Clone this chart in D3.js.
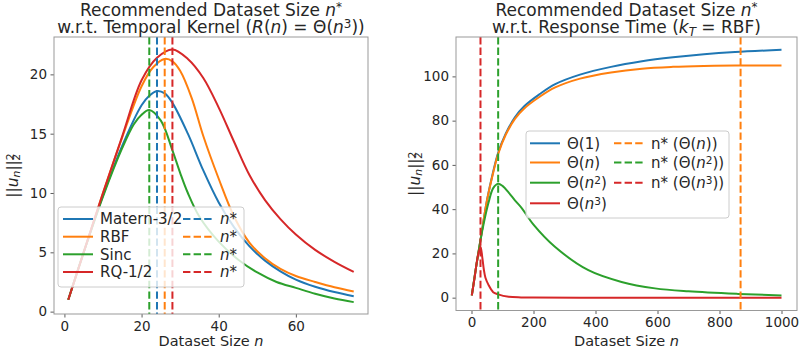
<!DOCTYPE html>
<html>
<head>
<meta charset="utf-8">
<script src="https://cdn.jsdelivr.net/npm/d3@7"></script>
<style>
  body { margin: 0; background: #fff; }
  text { font-family: "DejaVu Sans", sans-serif; fill: #262626; }
</style>
</head>
<body>
<svg width="799" height="356"></svg>
<script>
// ---- left panel data (temporal kernel) ----
var leftN = {
  matern: [1, 5, 10, 15, 20, 22, 24, 26, 28, 32, 36, 40, 44, 48, 52, 56, 60, 65, 70, 75],
  rbf:    [1, 5, 10, 15, 20, 23, 26, 28, 30, 33, 36, 40, 44, 48, 52, 56, 60, 65, 70, 75],
  sinc:   [1, 5, 10, 15, 18, 20, 22, 25, 28, 30, 32, 35, 40, 45, 50, 55, 60, 65, 70, 75],
  rq:     [1, 5, 10, 15, 20, 24, 28, 32, 36, 40, 44, 48, 52, 56, 60, 65, 70, 75]
};
var leftV = {
  matern: [1, 5, 9.8, 14.0, 17.4, 18.2, 18.6, 18.4, 17.6, 15.0, 11.9, 9.2, 7.1, 5.5, 4.3, 3.4, 2.7, 2.1, 1.65, 1.3],
  rbf:    [1, 5, 10, 14.7, 19.0, 20.6, 21.3, 21.1, 20.3, 18.0, 14.8, 11.2, 8.0, 5.8, 4.5, 3.6, 3.0, 2.5, 2.05, 1.7],
  sinc:   [1, 5, 9.7, 13.8, 15.8, 16.6, 17.0, 16.1, 13.6, 11.7, 10.0, 8.0, 5.9, 4.4, 3.3, 2.5, 2.0, 1.5, 1.1, 0.8],
  rq:     [1, 5, 10, 14.8, 19.5, 21.4, 22.1, 21.3, 19.7, 17.2, 14.3, 11.5, 9.4, 7.8, 6.5, 5.2, 4.2, 3.35]
};
var leftStar = [24, 26, 22, 28];
var leftLabels = ["Matern-3/2", "RBF", "Sinc", "RQ-1/2"];
var leftKeys = ["matern", "rbf", "sinc", "rq"];

// ---- right panel data (response time) ----
var rightN = {
  c1: [1, 15, 29, 50, 70, 86, 110, 140, 170, 220, 270, 350, 450, 550, 650, 750, 850, 1000],
  cn: [1, 15, 29, 50, 70, 86, 110, 140, 170, 220, 270, 350, 450, 550, 650, 750, 850, 1000],
  cn2: [1, 15, 29, 40, 55, 70, 86, 100, 120, 140, 162, 200, 269, 377, 484, 592, 700, 860, 1000],
  cn3: [1, 10, 20, 29, 35, 40, 45, 54, 70, 86, 120, 160, 200, 400, 700, 1000]
};
var rightV = {
  c1: [1, 14, 26, 44, 57, 65.5, 74, 81.5, 86.5, 92, 96.5, 100.8, 104.3, 106.8, 108.6, 110, 111, 112],
  cn: [1, 14, 26, 44, 56.5, 65, 73.5, 80.8, 85.5, 90.8, 95, 99, 101.8, 103.5, 104.3, 104.7, 104.9, 104.9],
  cn2: [1, 14, 26, 34, 43, 49.5, 51.5, 50.5, 47.5, 44, 40.5, 33, 23, 12.4, 7.1, 4.2, 2.85, 1.7, 1.0],
  cn3: [1, 9, 18.5, 23, 18, 12.5, 9, 6, 2.5, 1.5, 0.4, 0.1, 0.02, 0, 0, 0]
};
var rightKeys = ["c1", "cn", "cn2", "cn3"];
var rightStar = [{k: 1, n: 868}, {k: 2, n: 86}, {k: 3, n: 29}];

var colors = ["#1f77b4", "#ff7f0e", "#2ca02c", "#d62728"];

var svg = d3.select("svg");

// write matplotlib-like mathtext into a text node
function rich(sel, parts, size) {
  parts.forEach(function(p) {
    var t = sel.append("tspan").text(p.t);
    if (p.i) t.attr("font-style", "italic");
    if (p.sup) t.attr("baseline-shift", "40%").attr("font-size", size * 0.7);
    if (p.sub) t.attr("baseline-shift", "-22%").attr("font-size", size * 0.7);
    if (p.dx) t.attr("dx", p.dx);
  });
  return sel;
}

function panel(opt) {
  var g = svg.append("g");
  var x = d3.scaleLinear().domain(opt.xd).range([opt.x0, opt.x1]);
  var y = d3.scaleLinear().domain(opt.yd).range([opt.y1, opt.y0]);

  var clip = "clip" + opt.id;
  svg.append("clipPath").attr("id", clip).append("rect")
    .attr("x", opt.x0).attr("y", opt.y0).attr("width", opt.x1 - opt.x0).attr("height", opt.y1 - opt.y0);

  var plot = g.append("g").attr("clip-path", "url(#" + clip + ")");

  var line = d3.line()
    .x(function(d) { return x(d[0]); })
    .y(function(d) { return y(d[1]); })
    .curve(d3.curveCatmullRom.alpha(0.5));

  opt.keys.forEach(function(k, i) {
    var pts = d3.zip(opt.ns[k], opt.vs[k]);
    plot.append("path").attr("d", line(pts))
      .attr("fill", "none").attr("stroke", colors[i]).attr("stroke-width", 2);
  });

  opt.stars.forEach(function(s) {
    plot.append("line")
      .attr("x1", x(s.n)).attr("x2", x(s.n))
      .attr("y1", opt.y0).attr("y2", opt.y1)
      .attr("stroke", colors[s.k]).attr("stroke-width", 2)
      .attr("stroke-dasharray", "7.4,3.2");
  });

  // axes
  var xa = g.append("g").attr("transform", "translate(0," + opt.y1 + ")")
    .call(d3.axisBottom(x).tickValues(opt.xt).tickSize(3.5).tickPadding(3.5).tickFormat(d3.format("d")));
  var ya = g.append("g").attr("transform", "translate(" + opt.x0 + ",0)")
    .call(d3.axisLeft(y).tickValues(opt.yt).tickSize(3.5).tickPadding(3.5).tickFormat(d3.format("d")));
  [xa, ya].forEach(function(a) {
    a.select(".domain").remove();
    a.selectAll(".tick line").attr("stroke", "#333").attr("stroke-width", 0.8);
    a.selectAll(".tick text").attr("font-size", 13.5).attr("fill", "#262626")
      .attr("font-family", "DejaVu Sans, sans-serif");
  });

  g.append("rect").attr("x", opt.x0).attr("y", opt.y0)
    .attr("width", opt.x1 - opt.x0).attr("height", opt.y1 - opt.y0)
    .attr("fill", "none").attr("stroke", "#999").attr("stroke-width", 1);

  var cx = (opt.x0 + opt.x1) / 2;
  // titles
  rich(g.append("text").attr("x", cx).attr("y", 16).attr("text-anchor", "middle").attr("font-size", 17),
    [{t: "Recommended Dataset Size "}, {t: "n", i: true}, {t: "*", sup: true}], 17);
  rich(g.append("text").attr("x", cx).attr("y", 33).attr("text-anchor", "middle").attr("font-size", 17),
    opt.title2, 17);
  // x label
  rich(g.append("text").attr("x", cx).attr("y", 346).attr("text-anchor", "middle").attr("font-size", 14.5),
    [{t: "Dataset Size "}, {t: "n", i: true}], 14.5);
  // y label
  rich(g.append("text")
      .attr("transform", "translate(" + opt.ylx + "," + ((opt.y0 + opt.y1) / 2) + ") rotate(-90)")
      .attr("text-anchor", "middle").attr("font-size", 15.5),
    [{t: "||"}, {t: "u", i: true}, {t: "n", i: true, sub: true}, {t: "||"},
     {t: "2", sup: true}, {t: "2", sub: true, dx: -7.5}], 15.5);

  // legend
  var L = opt.legend;
  var lg = g.append("g");
  lg.append("rect").attr("x", L.x).attr("y", L.y).attr("width", L.w).attr("height", L.h)
    .attr("rx", 3).attr("fill", "rgba(255,255,255,0.8)").attr("stroke", "#ccc").attr("stroke-width", 1);
  L.items.forEach(function(it) {
    var yy = L.rows[it.r];
    var c = L.cols[it.c];
    lg.append("line").attr("x1", c).attr("x2", c + 30).attr("y1", yy).attr("y2", yy)
      .attr("stroke", colors[it.k]).attr("stroke-width", 2)
      .attr("stroke-dasharray", it.dash ? "7.4,3.2" : null);
    rich(lg.append("text").attr("x", c + 37).attr("y", yy + 5.3).attr("font-size", 15), it.parts, 15);
  });
}

// left
var leftItems = [];
leftKeys.forEach(function(k, i) {
  leftItems.push({r: i, c: 0, k: i, parts: [{t: leftLabels[i]}]});
  leftItems.push({r: i, c: 1, k: i, dash: true, parts: [{t: "n", i: true}, {t: "*"}]});
});
panel({
  id: "L", x0: 54, x1: 368, y0: 37, y1: 314,
  xd: [-2.7, 78.7], yd: [-0.2, 23.15],
  xt: [0, 20, 40, 60], yt: [0, 5, 10, 15, 20],
  keys: leftKeys, ns: leftN, vs: leftV,
  stars: leftStar.map(function(n, i) { return {k: i, n: n}; }),
  ylx: 18,
  title2: [{t: "w.r.t. Temporal Kernel ("}, {t: "R", i: true}, {t: "("}, {t: "n", i: true},
           {t: ") = \u0398("}, {t: "n", i: true}, {t: "3", sup: true}, {t: "))"}],
  legend: {x: 58, y: 207, w: 186, h: 80, rows: [219, 236.7, 254.3, 272], cols: [63, 183],
    items: leftItems}
});

// right
var rightLeg = [
  [{t: "\u0398(1)"}],
  [{t: "\u0398("}, {t: "n", i: true}, {t: ")"}],
  [{t: "\u0398("}, {t: "n", i: true}, {t: "2", sup: true}, {t: ")"}],
  [{t: "\u0398("}, {t: "n", i: true}, {t: "3", sup: true}, {t: ")"}]
];
var rightItems = rightLeg.map(function(p, i) { return {r: i, c: 0, k: i, parts: p}; });
rightStar.forEach(function(s, j) {
  rightItems.push({r: j, c: 1, k: s.k, dash: true,
    parts: [{t: "n* ("}].concat(rightLeg[s.k].slice(0, -1)).concat([{t: "))"}])});
});
panel({
  id: "R", x0: 456, x1: 797, y0: 37, y1: 310.5,
  xd: [-50, 1050], yd: [-5.8, 117.8],
  xt: [0, 200, 400, 600, 800, 1000], yt: [0, 20, 40, 60, 80, 100],
  keys: rightKeys, ns: rightN, vs: rightV,
  stars: rightStar,
  ylx: 420,
  title2: [{t: "w.r.t. Response Time ("}, {t: "k", i: true}, {t: "T", i: true, sub: true}, {t: " = RBF)"}],
  legend: {x: 526, y: 131, w: 203, h: 87, rows: [143.3, 162.5, 182.7, 203.3], cols: [530, 614],
    items: rightItems}
});
</script>
</body>
</html>
